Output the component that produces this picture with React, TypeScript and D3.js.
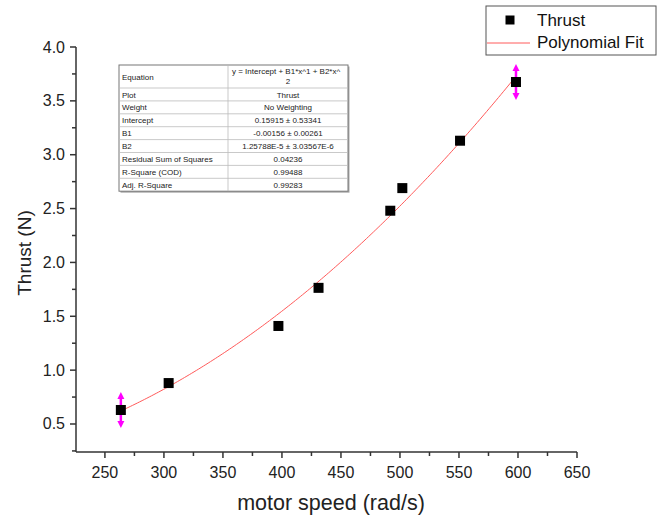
import React from "react";
import * as d3 from "d3";

// Measured thrust vs motor speed
const speeds = [263.5, 304, 397, 431, 491.8, 502, 550.9, 598.3];
const thrust = [0.63, 0.88, 1.41, 1.764, 2.48, 2.69, 3.13, 3.675];
const thrustErr = [0.167, 0, 0, 0, 0, 0, 0, 0.167];

// Second-order polynomial fit coefficients
const fitIntercept = 0.15915;
const fitB1 = -0.00156;
const fitB2 = 1.25788e-5;

const xTicks = [250, 300, 350, 400, 450, 500, 550, 600, 650];
const yTicks = [0.5, 1.0, 1.5, 2.0, 2.5, 3.0, 3.5, 4.0];

const tableRows: [string, string][] = [
  ["Plot", "Thrust"],
  ["Weight", "No Weighting"],
  ["Intercept", "0.15915 ± 0.53341"],
  ["B1", "-0.00156 ± 0.00261"],
  ["B2", "1.25788E-5 ± 3.03567E-6"],
  ["Residual Sum of Squares", "0.04236"],
  ["R-Square (COD)", "0.99488"],
  ["Adj. R-Square", "0.99283"],
];

const W = 658;
const H = 519;
const font = "'Liberation Sans', Arial, sans-serif";

export default function App() {
  const x = d3.scaleLinear().domain([225.5, 650]).range([76, 577]);
  const y = d3.scaleLinear().domain([0.24, 4.0]).range([452, 47]);

  const xMinor = d3.range(225, 650, 50).filter((v) => x(v) >= 75.5);
  const yMinor = d3.range(0.25, 4.0, 0.5);

  const fit = (v: number) => fitIntercept + fitB1 * v + fitB2 * v * v;
  const xs = d3.range(speeds[0], speeds[speeds.length - 1] + 0.01, 2);
  const line = d3
    .line<number>()
    .x((v) => x(v))
    .y((v) => y(fit(v)));

  const axisColor = "#333";
  const tickColor = "#222";

  // table geometry
  const tx0 = 119;
  const tx1 = 348;
  const tcol = 228;
  const ty0 = 65;
  const headH = 23;
  const rowH = 12.9;
  const ty1 = ty0 + headH + rowH * tableRows.length;
  const vcx = (tcol + tx1) / 2;

  // arrowhead with its tip at (cx, tipY), pointing up (dir=-1) or down (dir=1)
  const arrow = (cx: number, tipY: number, dir: number, key: string) => (
    <path
      key={key}
      d={`M${cx},${tipY} L${cx - 3.5},${tipY - dir * 7} L${cx + 3.5},${tipY - dir * 7} Z`}
      fill="#ff00ff"
    />
  );

  return (
    <svg
      width={W}
      height={H}
      style={{ position: "absolute", left: 0, top: 0, background: "#fff" }}
      fontFamily={font}
    >
      <defs>
        <clipPath id="eqClip">
          <rect x={tcol} y={ty0} width={tx1 - tcol - 1} height={headH} />
        </clipPath>
      </defs>

      {/* axes */}
      <line x1={76} x2={76} y1={47} y2={452} stroke={axisColor} strokeWidth={1.5} />
      <line x1={76} x2={577} y1={452} y2={452} stroke={axisColor} strokeWidth={1.5} />
      {xTicks.map((t) => (
        <g key={"xt" + t}>
          <line x1={x(t)} x2={x(t)} y1={452} y2={458} stroke={axisColor} strokeWidth={1.5} />
          <text x={x(t)} y={478} textAnchor="middle" fontSize={16} fill={tickColor}>
            {t}
          </text>
        </g>
      ))}
      {xMinor.map((t) => (
        <line key={"xm" + t} x1={x(t)} x2={x(t)} y1={452} y2={456} stroke={axisColor} strokeWidth={1.5} />
      ))}
      {yTicks.map((t) => (
        <g key={"yt" + t}>
          <line x1={70} x2={76} y1={y(t)} y2={y(t)} stroke={axisColor} strokeWidth={1.5} />
          <text x={65} y={y(t) + 5.5} textAnchor="end" fontSize={16} fill={tickColor}>
            {t.toFixed(1)}
          </text>
        </g>
      ))}
      {yMinor.map((t) => (
        <line key={"ym" + t} x1={72} x2={76} y1={y(t)} y2={y(t)} stroke={axisColor} strokeWidth={1.5} />
      ))}

      {/* axis titles */}
      <text x={331} y={510} textAnchor="middle" fontSize={21.5} fill={tickColor}>
        motor speed (rad/s)
      </text>
      <text
        transform={`translate(31,253) rotate(-90)`}
        textAnchor="middle"
        fontSize={19}
        fill={tickColor}
      >
        Thrust (N)
      </text>

      {/* fit curve */}
      <path d={line(xs) || ""} fill="none" stroke="#ff5a5a" strokeWidth={1} />

      {/* error bars */}
      {speeds.map((s, i) =>
        thrustErr[i] > 0 ? (
          <g key={"e" + i}>
            <line
              x1={x(s)}
              x2={x(s)}
              y1={y(thrust[i] + thrustErr[i]) + 5}
              y2={y(thrust[i] - thrustErr[i]) - 5}
              stroke="#ff00ff"
              strokeWidth={2.5}
            />
            {arrow(x(s), y(thrust[i] + thrustErr[i]), -1, "u" + i)}
            {arrow(x(s), y(thrust[i] - thrustErr[i]), 1, "d" + i)}
          </g>
        ) : null
      )}

      {/* data points */}
      {speeds.map((s, i) => (
        <rect key={"p" + i} x={x(s) - 5} y={y(thrust[i]) - 5} width={10} height={10} fill="#000" />
      ))}

      {/* fit results table */}
      <rect x={tx0 + 1.5} y={ty0 + 1.5} width={tx1 - tx0} height={ty1 - ty0} fill="#aaa" />
      <rect x={tx0} y={ty0} width={tx1 - tx0} height={ty1 - ty0} fill="#fff" stroke="#777" strokeWidth={1} />
      <line x1={tcol} x2={tcol} y1={ty0} y2={ty1} stroke="#bbb" strokeWidth={0.8} />
      <line x1={tx0} x2={tx1} y1={ty0 + headH} y2={ty0 + headH} stroke="#bbb" strokeWidth={0.8} />
      {tableRows.map((_, i) =>
        i > 0 ? (
          <line
            key={"rl" + i}
            x1={tx0}
            x2={tx1}
            y1={ty0 + headH + rowH * i}
            y2={ty0 + headH + rowH * i}
            stroke="#bbb"
            strokeWidth={0.8}
          />
        ) : null
      )}
      <text x={tx0 + 3} y={ty0 + headH / 2 + 3} fontSize={8} fill="#222">
        Equation
      </text>
      <text x={tcol + 4} y={ty0 + 9} fontSize={8} fill="#222" clipPath="url(#eqClip)">
        y = Intercept + B1*x^1 + B2*x^
      </text>
      <text x={vcx} y={ty0 + 19} textAnchor="middle" fontSize={8} fill="#222">
        2
      </text>
      {tableRows.map(([k, v], i) => (
        <g key={"r" + i}>
          <text x={tx0 + 3} y={ty0 + headH + rowH * i + 9.5} fontSize={8} fill="#222">
            {k}
          </text>
          <text
            x={vcx}
            y={ty0 + headH + rowH * i + 9.5}
            textAnchor="middle"
            fontSize={8}
            fill="#222"
          >
            {v}
          </text>
        </g>
      ))}

      {/* legend */}
      <rect x={486} y={6} width={170} height={49} fill="#fff" stroke="#555" strokeWidth={1} />
      <rect x={505.5} y={15.5} width={9} height={9} fill="#000" />
      <text x={537} y={26} fontSize={17} fill="#111">
        Thrust
      </text>
      <line x1={487} x2={530} y1={43} y2={43} stroke="#ff5a5a" strokeWidth={1} />
      <text x={537} y={47.5} fontSize={17} fill="#111">
        Polynomial Fit
      </text>
    </svg>
  );
}
